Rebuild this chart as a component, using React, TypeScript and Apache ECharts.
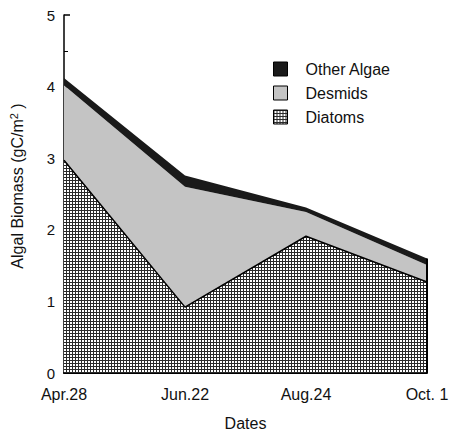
import React, { useEffect, useRef } from "react";
import * as echarts from "echarts";

const categories = ["Apr.28", "Jun.22", "Aug.24", "Oct. 1"];
const diatoms = [2.97, 0.92, 1.91, 1.27];
const desmids = [1.05, 1.68, 0.34, 0.24];
const otherAlgae = [0.1, 0.16, 0.06, 0.09];
const yTicks = [0, 1, 2, 3, 4, 5];

const FONT = "'Liberation Sans', Arial, Helvetica, sans-serif";

function makeGridPattern(): HTMLCanvasElement {
  const c = document.createElement("canvas");
  c.width = 3;
  c.height = 3;
  const ctx = c.getContext("2d")!;
  ctx.fillStyle = "#ffffff";
  ctx.fillRect(0, 0, 3, 3);
  ctx.fillStyle = "#2a2a2a";
  ctx.fillRect(0, 0, 3, 1);
  ctx.fillRect(0, 0, 1, 3);
  return c;
}

export default function App() {
  const ref = useRef<HTMLDivElement>(null);
  useEffect(() => {
    if (!ref.current) return;
    const chart = echarts.init(ref.current, null, { renderer: "svg" });
    const pattern = { image: makeGridPattern(), repeat: "repeat" };
    const lastIdx = categories.length - 1;
    const total = diatoms[lastIdx] + desmids[lastIdx] + otherAlgae[lastIdx];
    chart.setOption({
      animation: false,
      grid: { left: 64, right: 23, top: 15, bottom: 59, outerBoundsMode: "none", containLabel: false },
      legend: {
        orient: "vertical",
        left: 268,
        top: 56,
        itemWidth: 14,
        itemHeight: 14,
        itemGap: 8,
        icon: "rect",
        data: ["Other Algae", "Desmids", "Diatoms"],
        itemStyle: { borderColor: "#000", borderWidth: 1 },
        textStyle: { fontFamily: FONT, fontSize: 16, color: "#111", padding: [0, 0, 0, 13] },
      },
      xAxis: {
        type: "category",
        data: categories,
        boundaryGap: false,
        name: "Dates",
        nameLocation: "middle",
        nameGap: 42,
        nameMoveOverlap: false,
        nameTextStyle: { fontFamily: FONT, fontSize: 16, color: "#111" },
        axisLine: { lineStyle: { color: "#000", width: 2 } },
        axisTick: { show: false },
        axisLabel: { fontFamily: FONT, fontSize: 16, color: "#111", margin: 13 },
        splitLine: { show: false },
      },
      yAxis: {
        type: "value",
        min: yTicks[0],
        max: yTicks[yTicks.length - 1],
        interval: 1,
        name: "Algal Biomass (gC/m{sup|2} )",
        nameLocation: "middle",
        nameGap: 37,
        nameMoveOverlap: false,
        nameTextStyle: {
          fontFamily: FONT,
          fontSize: 16,
          color: "#111",
          padding: [0, 0, 0, 16],
          rich: { sup: { fontFamily: FONT, fontSize: 11, color: "#111", verticalAlign: "top", padding: [0, 0, 8, 0] } },
        },
        axisLine: { show: true, lineStyle: { color: "#000", width: 1.5 } },
        axisTick: { show: true, inside: true, length: 6, lineStyle: { color: "#000", width: 1.5 } },
        minorTick: { show: true, splitNumber: 2, length: 4, lineStyle: { color: "#000", width: 1 } },
        axisLabel: { fontFamily: FONT, fontSize: 15, color: "#111", margin: 9 },
        splitLine: { show: false },
      },
      series: [
        {
          name: "Diatoms",
          type: "line",
          stack: "a",
          data: diatoms,
          symbol: "none",
          lineStyle: { color: "#000", width: 1.5 },
          itemStyle: { color: pattern },
          areaStyle: { color: pattern, opacity: 1 },
          z: 2,
        },
        {
          name: "Desmids",
          type: "line",
          stack: "a",
          data: desmids,
          symbol: "none",
          lineStyle: { width: 0 },
          itemStyle: { color: "#c4c4c4" },
          areaStyle: { color: "#c4c4c4", opacity: 1 },
          z: 2,
        },
        {
          name: "Other Algae",
          type: "line",
          stack: "a",
          data: otherAlgae,
          symbol: "none",
          lineStyle: { width: 0 },
          itemStyle: { color: "#1a1a1a" },
          areaStyle: { color: "#1a1a1a", opacity: 1 },
          z: 2,
          markLine: {
            symbol: "none",
            silent: true,
            label: { show: false },
            lineStyle: { color: "#000", width: 2, type: "solid" },
            data: [[{ coord: [categories[lastIdx], 0] }, { coord: [categories[lastIdx], total] }]],
          },
        },
      ],
    });
    return () => chart.dispose();
  }, []);
  return <div ref={ref} style={{ position: "absolute", left: 0, top: 0, width: 450, height: 432 }} />;
}
